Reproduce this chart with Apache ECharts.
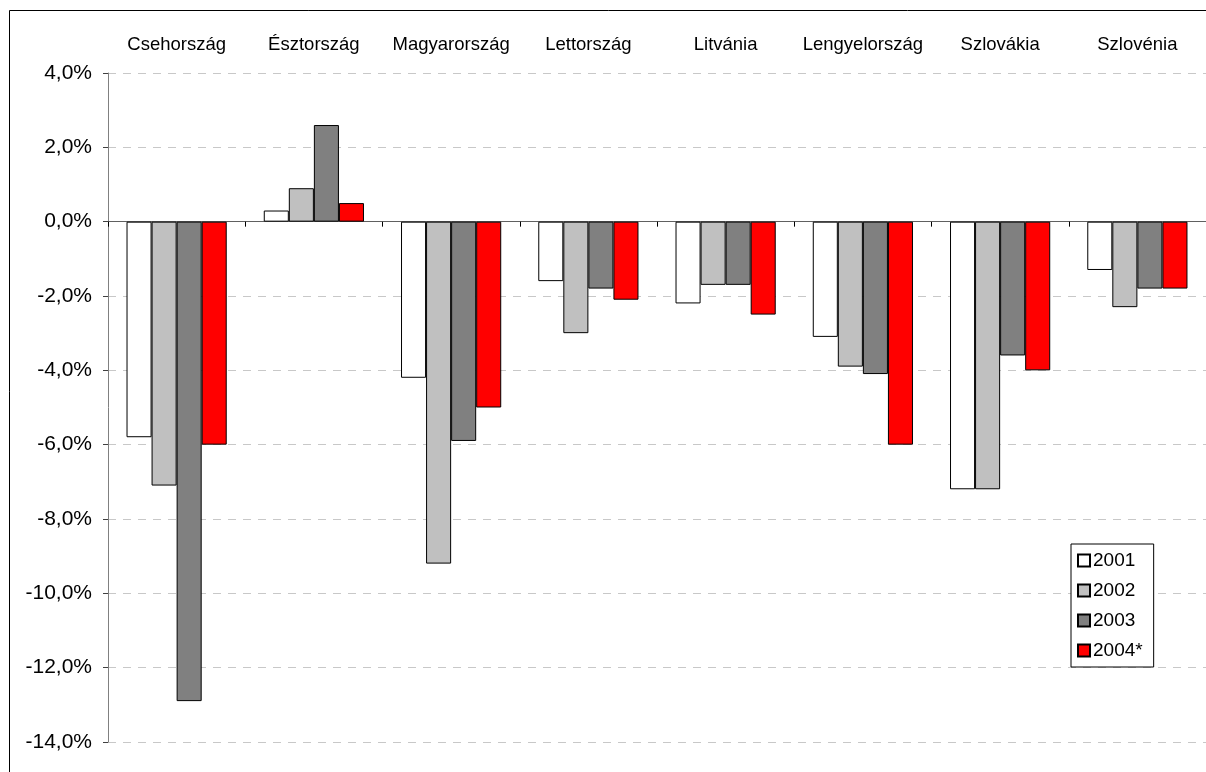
<!DOCTYPE html>
<html>
<head>
<meta charset="utf-8">
<script src="https://cdn.jsdelivr.net/npm/echarts@6/dist/echarts.min.js"></script>
<style>
  html, body { margin: 0; padding: 0; background: #fff; }
  #chart { width: 1206px; height: 772px; }
</style>
</head>
<body>
<div id="chart"></div>
<script>
// Countries shown along the top of the chart
const countries = ['Csehország', 'Észtország', 'Magyarország', 'Lettország', 'Litvánia', 'Lengyelország', 'Szlovákia', 'Szlovénia'];

// Yearly values (% of GDP), one array per year
const years = ['2001', '2002', '2003', '2004*'];
const v2001 = [-5.8, 0.3, -4.2, -1.6, -2.2, -3.1, -7.2, -1.3];
const v2002 = [-7.1, 0.9, -9.2, -3.0, -1.7, -3.9, -7.2, -2.3];
const v2003 = [-12.9, 2.6, -5.9, -1.8, -1.7, -4.1, -3.6, -1.8];
const v2004 = [-6.0, 0.5, -5.0, -2.1, -2.5, -6.0, -4.0, -1.8];

// Value axis range
const yMin = -14, yMax = 4, yStep = 2;

const colors = ['#ffffff', '#c0c0c0', '#808080', '#ff0000'];
const seriesValues = [v2001, v2002, v2003, v2004];
const font = "'Liberation Sans', Arial, sans-serif";

const chart = echarts.init(document.getElementById('chart'));
chart.setOption({
  animation: false,
  backgroundColor: '#fff',
  textStyle: { fontFamily: font },
  graphic: [{
    type: 'rect',
    shape: { x: 9.5, y: 10.5, width: 1400, height: 1000 },
    style: { fill: 'none', stroke: '#000', lineWidth: 1 },
    z: -1
  }],
  grid: { left: 108, top: 73, width: 1100, height: 669 },
  legend: {
    orient: 'vertical',
    left: 1071, top: 544,
    padding: [7, 11, 7, 6],
    backgroundColor: '#fff',
    borderColor: '#000',
    borderWidth: 1,
    itemWidth: 12, itemHeight: 12,
    itemGap: 11,
    icon: 'rect',
    textStyle: { fontSize: 19, color: '#000', fontFamily: font, padding: [0, 0, 0, -2] },
    data: years
  },
  xAxis: [{
    type: 'category',
    data: countries,
    position: 'bottom',
    axisLine: { onZero: true, lineStyle: { color: '#606060', width: 1 } },
    axisTick: { show: true, length: 5, lineStyle: { color: '#000' } },
    axisLabel: { show: false },
    splitLine: { show: false }
  }, {
    type: 'category',
    data: countries,
    position: 'top',
    axisLine: { show: false },
    axisTick: { show: false },
    axisLabel: { fontSize: 18.5, color: '#000', margin: 19, fontFamily: font, interval: 0 },
    splitLine: { show: false }
  }],
  yAxis: {
    type: 'value',
    min: yMin, max: yMax, interval: yStep,
    axisLine: { show: true, lineStyle: { color: '#808080', width: 1 } },
    axisTick: { show: true, length: 5, lineStyle: { color: '#404040' } },
    axisLabel: {
      fontSize: 21, color: '#000', margin: 16, fontFamily: font,
      formatter: v => v.toFixed(1).replace('.', ',') + '%'
    },
    splitLine: { show: true, lineStyle: { color: '#c8c8c8', type: [8, 7], width: 1 } }
  },
  series: years.map((name, i) => ({
    name: name,
    type: 'bar',
    xAxisIndex: 0,
    data: seriesValues[i],
    barGap: '0%',
    barCategoryGap: '27%',
    itemStyle: { color: colors[i], borderColor: '#000', borderWidth: 1 }
  }))
});
</script>
</body>
</html>
